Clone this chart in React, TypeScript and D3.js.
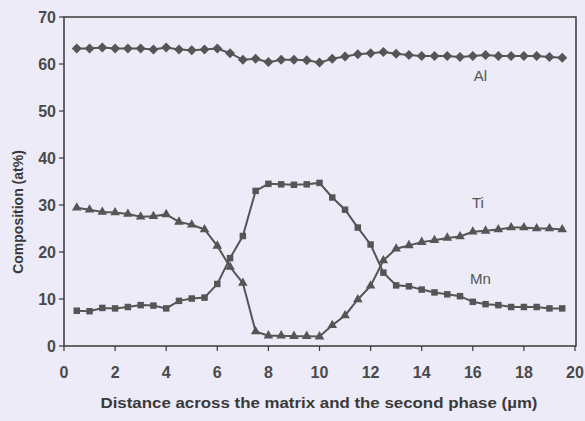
import React from 'react';
import * as d3 from 'd3';

// distance across the matrix (µm)
const distance = [
  0.5, 1, 1.5, 2, 2.5, 3, 3.5, 4, 4.5, 5, 5.5, 6, 6.5, 7, 7.5, 8, 8.5, 9, 9.5, 10,
  10.5, 11, 11.5, 12, 12.5, 13, 13.5, 14, 14.5, 15, 15.5, 16, 16.5, 17, 17.5, 18, 18.5, 19, 19.5
];

const al = [
  63.3, 63.3, 63.5, 63.3, 63.3, 63.3, 63.1, 63.5, 63.1, 62.9, 63.1, 63.3, 62.3, 60.9, 61.1, 60.4, 60.9, 60.9, 60.8, 60.3,
  61.1, 61.6, 62.1, 62.3, 62.55, 62.2, 61.9, 61.7, 61.7, 61.7, 61.5, 61.7, 61.9, 61.7, 61.7, 61.7, 61.7, 61.5, 61.35
];

const ti = [
  29.4, 29.0, 28.5, 28.4, 28.1, 27.5, 27.6, 28.0, 26.4, 25.8, 24.8, 21.3, 16.8, 13.4, 3.1, 2.2, 2.2, 2.1, 2.1, 2.0,
  4.4, 6.5, 9.9, 12.8, 18.2, 20.7, 21.4, 22.1, 22.5, 23.0, 23.3, 24.3, 24.5, 24.8, 25.2, 25.2, 25.0, 25.0, 24.8
];

const mn = [
  7.5, 7.4, 8.1, 8.0, 8.3, 8.7, 8.6, 8.0, 9.6, 10.1, 10.3, 13.2, 18.7, 23.4, 33.0, 34.5, 34.4, 34.3, 34.4, 34.7,
  31.6, 29.0, 25.2, 21.6, 15.6, 12.9, 12.7, 12.0, 11.4, 11.0, 10.6, 9.4, 8.9, 8.7, 8.3, 8.3, 8.3, 8.0, 8.0
];

const xTicks = [0, 2, 4, 6, 8, 10, 12, 14, 16, 18, 20];
const yTicks = [0, 10, 20, 30, 40, 50, 60, 70];

const seriesNames = ['Al', 'Ti', 'Mn'];

const W = 585, H = 421;
const left = 64, right = 576, top = 17, bottom = 346;
const ink = '#555555';
const font = '"Liberation Sans", Arial, sans-serif';

export default function App() {
  const x = d3.scaleLinear().domain([0, 20]).range([left, right - 1]);
  const y = d3.scaleLinear().domain([0, 70]).range([bottom, top]);

  const series = [al, ti, mn].map((vals, i) => ({
    name: seriesNames[i],
    points: vals.map((v, j) => [distance[j], v] as [number, number])
  }));

  const line = d3.line<[number, number]>().x(d => x(d[0])).y(d => y(d[1]));

  const square = d3.symbol().type(d3.symbolSquare);
  const markers: { [k: string]: { path: string; rotate: number } } = {
    Al: { path: square.size(50)() as string, rotate: 45 },
    Ti: { path: d3.symbol().type(d3.symbolTriangle).size(40)() as string, rotate: 0 },
    Mn: { path: square.size(42)() as string, rotate: 0 }
  };

  const labelPos: { [k: string]: [number, number] } = {
    Al: [16.3, 57.5],
    Ti: [16.2, 30.5],
    Mn: [16.3, 14.3]
  };

  return (
    <div style={{ position: 'fixed', left: 0, top: 0 }}>
      <svg width={W} height={H} style={{ display: 'block', background: '#ecebf7' }}>
        <rect x={left} y={top} width={right - left} height={bottom - top} fill="none" stroke="#3a3a3a" strokeWidth={1.5} />

        {yTicks.map(t => (
          <g key={'y' + t}>
            <line x1={left - 5} x2={left} y1={y(t)} y2={y(t)} stroke="#3a3a3a" strokeWidth={1.2} />
            <text x={left - 8} y={y(t)} dy="0.36em" textAnchor="end" fontFamily={font} fontWeight="bold" fontSize={16} fill="#4a4a4a">{t}</text>
          </g>
        ))}
        {xTicks.map(t => (
          <g key={'x' + t}>
            <line x1={x(t)} x2={x(t)} y1={bottom} y2={bottom + 5} stroke="#3a3a3a" strokeWidth={1.2} />
            <text x={x(t)} y={bottom + 26} dy="0.36em" textAnchor="middle" fontFamily={font} fontWeight="bold" fontSize={16} fill="#4a4a4a">{t}</text>
          </g>
        ))}

        {series.map(s => (
          <g key={s.name}>
            <path d={line(s.points) as string} fill="none" stroke={ink} strokeWidth={2} />
            {s.points.map((p, j) => (
              <path key={j} d={markers[s.name].path} fill={ink}
                transform={`translate(${x(p[0])},${y(p[1])}) rotate(${markers[s.name].rotate})`} />
            ))}
            <text x={x(labelPos[s.name][0])} y={y(labelPos[s.name][1])} dy="0.36em" textAnchor="middle"
              fontFamily={font} fontSize={15} fill="#555">{s.name}</text>
          </g>
        ))}

        <text transform={`translate(18,212) rotate(-90)`} textAnchor="middle" dy="0.36em"
          fontFamily={font} fontWeight="bold" fontSize={14} fill="#3a3a3a">Composition (at%)</text>
        <text x={319} y={403} dy="0.36em" textAnchor="middle" textLength={437} lengthAdjust="spacingAndGlyphs"
          fontFamily={font} fontWeight="bold" fontSize={14} fill="#3a3a3a">Distance across the matrix and the second phase (µm)</text>
      </svg>
    </div>
  );
}
